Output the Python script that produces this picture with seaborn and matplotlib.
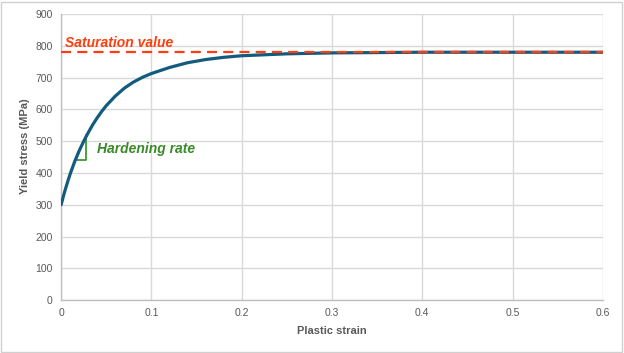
#!/usr/bin/env python3
"""
Voce-type hardening curve: yield stress vs plastic strain,
with the saturation value and the initial hardening rate marked.
"""

import matplotlib.pyplot as plt
import matplotlib.patches as mpatches
import pandas as pd
import seaborn as sns

# Values
plastic_strain = [0.0, 0.0025, 0.005, 0.0075, 0.01, 0.015, 0.02, 0.025, 0.03, 0.035,
                  0.04, 0.045, 0.05, 0.06, 0.07, 0.08, 0.09, 0.10, 0.12, 0.14,
                  0.16, 0.18, 0.20, 0.25, 0.30, 0.35, 0.40, 0.50, 0.60]
yield_stress = [300, 327, 352, 375, 397, 436, 470, 500, 527, 552,
                574, 594, 612, 642, 667, 686, 701, 713, 732, 747,
                757, 764, 769, 775, 778, 779, 780, 780, 780]

saturation_value = 780
saturation_strain = [0.0, 0.6]

# hardening-rate slope triangle (strain, stress)
tri_strain = [0.0177, 0.0277, 0.0277]
tri_stress = [440, 440, 519]

x_ticks = [0, 0.1, 0.2, 0.3, 0.4, 0.5, 0.6]
y_ticks = [0, 100, 200, 300, 400, 500, 600, 700, 800, 900]

sns.set_theme(style="whitegrid")
plt.rcParams['font.family'] = ['Liberation Sans', 'DejaVu Sans']

curve_df = pd.DataFrame({'strain': plastic_strain, 'stress': yield_stress})
sat_df = pd.DataFrame({'strain': saturation_strain,
                       'stress': [saturation_value] * len(saturation_strain)})

fig = plt.figure(figsize=(6.24, 3.53), dpi=100)
ax = fig.add_axes([0.098, 0.150, 0.868, 0.810])

sns.lineplot(data=curve_df, x='strain', y='stress', ax=ax, color='#135B7E',
             linewidth=2.3, zorder=3)
sns.lineplot(data=sat_df, x='strain', y='stress', ax=ax, color='#FF3D0D',
             linewidth=1.6, zorder=4)
ax.lines[-1].set_dashes([4.5, 2.8])

ax.plot(tri_strain, tri_stress, color='#3C9A2E', linewidth=1.3, zorder=2)

ax.text(0.0045, 797, 'Saturation value', color='#FF3D0D', fontsize=10,
        fontstyle='italic', fontweight='bold')
ax.text(0.040, 462, 'Hardening rate', color='#3A8A2A', fontsize=10,
        fontstyle='italic', fontweight='bold')

ax.set_xlim(0, 0.6)
ax.set_ylim(0, 900)
ax.set_xticks(x_ticks)
ax.set_xticklabels([f'{t:g}' for t in x_ticks])
ax.set_yticks(y_ticks)
ax.tick_params(axis='both', labelsize=7.5, colors='#595959', length=0, pad=6)
ax.grid(True, color='#D9D9D9', linewidth=1.0)
ax.set_facecolor('white')
for side in ['top', 'right']:
    ax.spines[side].set_visible(False)
for side in ['left', 'bottom']:
    ax.spines[side].set_color('#BFBFBF')
    ax.spines[side].set_linewidth(1.0)

ax.set_xlabel('Plastic strain', fontsize=8, fontweight='bold', color='#595959')
ax.set_ylabel('Yield stress (MPa)', fontsize=8, fontweight='bold', color='#595959')
ax.xaxis.set_label_coords(0.5, -0.108)
ax.yaxis.set_label_coords(-0.066, 0.538)
ax.xaxis.label.set_verticalalignment('center')
ax.yaxis.label.set_verticalalignment('center')

# thin frame round the whole chart
fig.patches.append(mpatches.Rectangle((0.002, 0.004), 0.994, 0.990,
                                      transform=fig.transFigure, fill=False,
                                      edgecolor='#D0D0D0', linewidth=1.0))

fig.savefig('out.png', dpi=100, facecolor='white')
